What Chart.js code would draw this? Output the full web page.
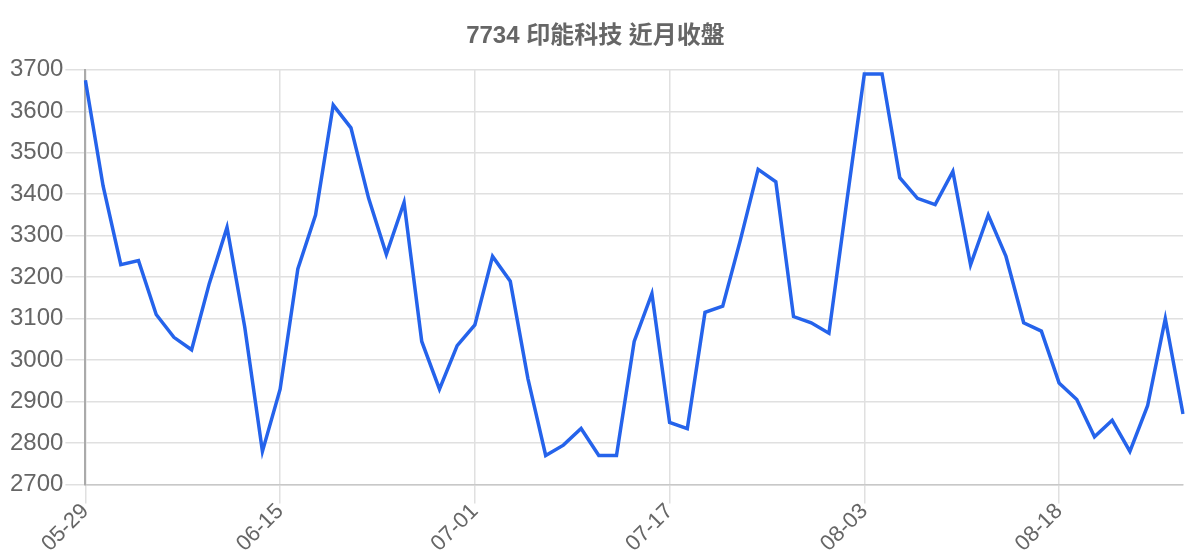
<!DOCTYPE html>
<html>
<head>
<meta charset="utf-8">
<script src="https://cdn.jsdelivr.net/npm/chart.js@4"></script>
<style>
html,body{margin:0;padding:0;background:#fff;}
#wrap{width:1200px;height:560px;}
</style>
</head>
<body>
<div id="wrap"><canvas id="c" width="1200" height="560"></canvas></div>
<script>
const titleText = '7734 印能科技 近月收盤';
const dates = [
 '05-29','05-30','06-02','06-03','06-04','06-05','06-06','06-09','06-10','06-11','06-12',
 '06-15','06-16','06-17','06-18','06-19','06-20','06-23','06-24','06-25','06-26','06-27',
 '07-01','07-02','07-03','07-04','07-07','07-08','07-09','07-10','07-11','07-14','07-15',
 '07-17','07-18','07-21','07-22','07-23','07-24','07-25','07-28','07-29','07-30','07-31',
 '08-03','08-04','08-05','08-06','08-07','08-08','08-11','08-12','08-13','08-14','08-15',
 '08-18','08-19','08-20','08-21','08-22','08-25','08-26','08-27'
];
const closes = [
 3675,3420,3230,3240,3110,3055,3025,3185,3320,3080,2780,
 2930,3220,3350,3615,3560,3390,3255,3380,3045,2930,3035,
 3085,3250,3190,2955,2770,2795,2835,2770,2770,3045,3160,
 2850,2835,3115,3130,3290,3460,3430,3105,3090,3065,3380,
 3690,3690,3440,3390,3375,3455,3230,3350,3250,3090,3070,
 2945,2905,2815,2855,2780,2890,3100,2870
];
const labelEvery = 11;
const yMin = 2700, yMax = 3700, yStep = 100;

new Chart(document.getElementById('c'), {
  type: 'line',
  data: {
    labels: dates,
    datasets: [{
      data: closes,
      borderColor: '#2563eb',
      borderWidth: 3.5,
      pointRadius: 0,
      pointHoverRadius: 0,
      tension: 0,
      fill: false
    }]
  },
  options: {
    responsive: false,
    animation: false,
    devicePixelRatio: 1,
    layout: { padding: { left: 8, right: 17, top: 4, bottom: 8 } },
    plugins: {
      legend: { display: false },
      tooltip: { enabled: false },
      title: {
        display: true,
        text: titleText,
        color: '#666',
        font: { family: '"Liberation Sans", "Noto Sans CJK TC", sans-serif', size: 24, weight: 'bold' },
        padding: { top: 18, bottom: 19 }
      }
    },
    scales: {
      x: {
        grid: { color: '#e0e0e0', lineWidth: 1.5, tickLength: 19 },
        border: { color: '#c8c8c8', width: 1.5 },
        ticks: {
          autoSkip: false,
          maxRotation: 45,
          minRotation: 45,
          padding: -5,
          color: '#666',
          font: { family: '"Liberation Sans", sans-serif', size: 22 },
          callback: function(v, i) { return i % labelEvery === 0 ? dates[i] : null; }
        }
      },
      y: {
        min: yMin,
        max: yMax,
        grid: { color: '#e0e0e0', lineWidth: 1.5, tickLength: 20 },
        border: { color: '#aaaaaa', width: 2 },
        ticks: {
          stepSize: yStep,
          color: '#666',
          padding: 2,
          font: { family: '"Liberation Sans", sans-serif', size: 24 },
          callback: function(v) { return String(v); }
        }
      }
    }
  }
});
</script>
</body>
</html>
